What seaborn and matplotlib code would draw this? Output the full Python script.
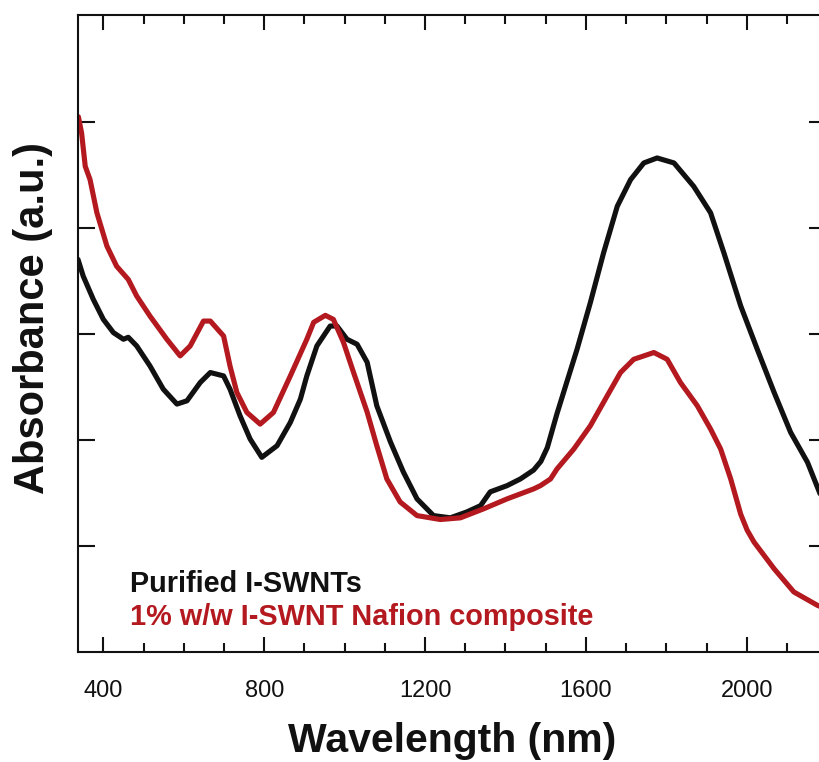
import numpy as np
import matplotlib
matplotlib.use("Agg")
import matplotlib.pyplot as plt
import seaborn as sns

# Absorbance spectra (arbitrary units) vs wavelength (nm)
purified_nm = [337, 350, 375, 400, 425, 450, 462, 483, 516, 549, 583, 608, 641, 666,
               699, 715, 740, 765, 794, 832, 865, 890, 906, 931, 964, 981, 1006, 1031,
               1056, 1080, 1114, 1146, 1180, 1221, 1263, 1304, 1338, 1362, 1404, 1437,
               1470, 1488, 1504, 1528, 1547, 1578, 1611, 1644, 1678, 1711, 1744, 1777,
               1819, 1868, 1910, 1943, 1985, 2026, 2068, 2109, 2151, 2184]
purified_abs = [3.707, 3.549, 3.330, 3.141, 3.016, 2.953, 2.972, 2.890, 2.701, 2.482,
                2.341, 2.372, 2.545, 2.639, 2.607, 2.482, 2.230, 2.011, 1.838, 1.948,
                2.168, 2.388, 2.607, 2.890, 3.078, 3.078, 2.953, 2.906, 2.736, 2.325,
                1.983, 1.700, 1.446, 1.288, 1.267, 1.323, 1.382, 1.512, 1.571, 1.634,
                1.718, 1.800, 1.930, 2.250, 2.482, 2.859, 3.299, 3.770, 4.209, 4.460,
                4.618, 4.665, 4.618, 4.397, 4.147, 3.770, 3.267, 2.859, 2.451, 2.074,
                1.791, 1.477]

composite_nm = [338, 346, 355, 367, 384, 409, 433, 462, 483, 516, 558, 591, 616, 649,
                666, 699, 715, 732, 757, 790, 823, 865, 906, 923, 952, 972, 997, 1022,
                1056, 1080, 1105, 1138, 1180, 1238, 1288, 1345, 1404, 1470, 1487, 1512,
                1528, 1570, 1611, 1653, 1686, 1719, 1769, 1802, 1835, 1877, 1910, 1935,
                1960, 1985, 2001, 2018, 2068, 2117, 2176, 2184]
composite_abs = [5.054, 4.900, 4.586, 4.460, 4.147, 3.832, 3.643, 3.518, 3.361, 3.172,
                 2.953, 2.796, 2.890, 3.125, 3.125, 2.984, 2.701, 2.451, 2.262, 2.152,
                 2.262, 2.607, 2.953, 3.113, 3.179, 3.141, 2.925, 2.642, 2.265, 1.948,
                 1.634, 1.417, 1.288, 1.251, 1.267, 1.351, 1.446, 1.540, 1.571, 1.634,
                 1.728, 1.917, 2.136, 2.419, 2.639, 2.764, 2.828, 2.764, 2.545, 2.325,
                 2.105, 1.917, 1.634, 1.300, 1.150, 1.038, 0.786, 0.567, 0.440, 0.428]

major_ticks = [400, 800, 1200, 1600, 2000]
minor_ticks = [500, 600, 700, 900, 1000, 1100, 1300, 1400, 1500, 1700, 1800, 1900, 2100]
y_ticks = [1, 2, 3, 4, 5]

series_labels = ["Purified I-SWNTs", "1% w/w I-SWNT Nafion composite"]
BLACK = "#111111"
RED = "#B3191E"

sns.set_theme(style="ticks")
plt.rcParams["font.family"] = ["Liberation Sans", "DejaVu Sans"]

W, H = 820, 762
fig = plt.figure(figsize=(W / 100, H / 100), dpi=100)
ax = fig.add_axes([78 / W, 1 - 652 / H, (826 - 78) / W, (652 - 15) / H])

sns.lineplot(x=purified_nm, y=purified_abs, ax=ax, color=BLACK, linewidth=3.7,
             sort=False, estimator=None)
sns.lineplot(x=composite_nm, y=composite_abs, ax=ax, color=RED, linewidth=3.7,
             sort=False, estimator=None)
for ln in ax.lines:
    ln.set_solid_joinstyle("round")
    ln.set_solid_capstyle("round")

ax.set_xlim(337, 2197)
ax.set_ylim(0, 6.015)
ax.set_xticks(major_ticks)
ax.set_xticks(minor_ticks, minor=True)
ax.set_yticks(y_ticks)
ax.set_yticklabels([])
ax.set_xlabel("")
ax.set_ylabel("")

for s in ax.spines.values():
    s.set_linewidth(1.5)
    s.set_color(BLACK)

ax.tick_params(axis="both", which="both", direction="in", top=True, right=True,
               width=1.5, color=BLACK)
ax.tick_params(axis="x", which="major", length=10.5, labelsize=17, pad=20,
               labelcolor=BLACK)
ax.tick_params(axis="x", which="minor", length=6.5)
ax.tick_params(axis="y", which="major", length=12)

fig.text(452 / W, 1 - 752 / H, "Wavelength (nm)", ha="center", va="baseline",
         fontsize=29.5, fontweight="bold", color=BLACK)
fig.text(33 / W, 1 - 318 / H, "Absorbance (a.u.)", ha="center", va="center",
         rotation=90, fontsize=30, fontweight="bold", color=BLACK)

fig.text(130 / W, 1 - 592 / H, series_labels[0], ha="left", va="baseline",
         fontsize=20.8, fontweight="bold", color=BLACK)
fig.text(130 / W, 1 - 625 / H, series_labels[1], ha="left", va="baseline",
         fontsize=20.8, fontweight="bold", color=RED)

fig.savefig("out.png", dpi=100, facecolor="white")
